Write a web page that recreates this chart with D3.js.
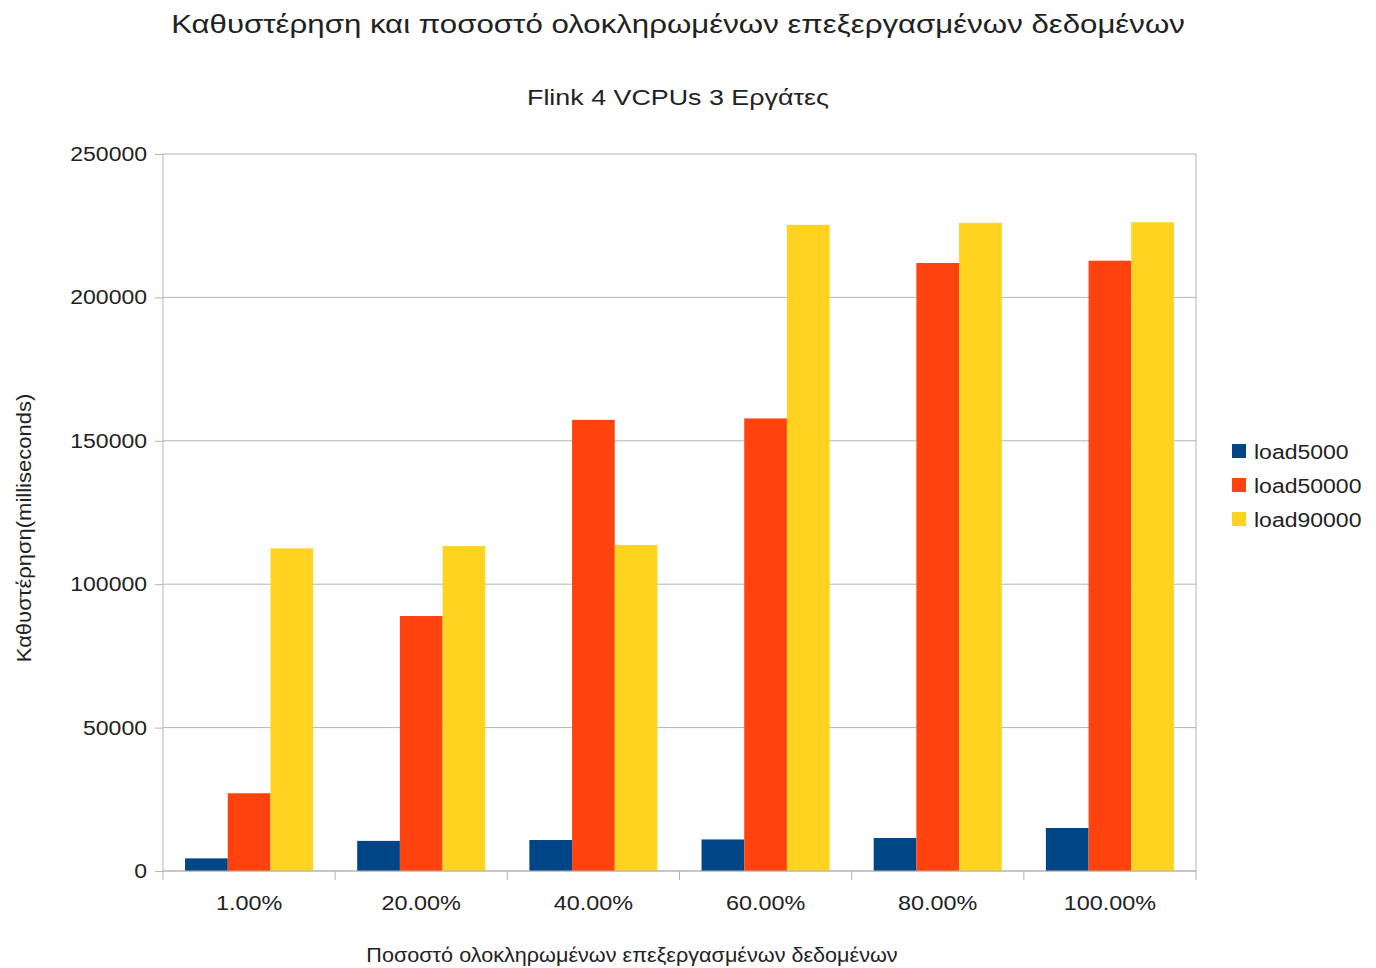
<!DOCTYPE html>
<html>
<head>
<meta charset="utf-8">
<script src="https://cdn.jsdelivr.net/npm/d3@7"></script>
<style>
  body { margin: 0; background: #fff; }
  text { font-family: "Liberation Sans", Arial, sans-serif; fill: #222; }
</style>
</head>
<body>
<div id="chart"></div>
<script>
const categories = ['1.00%', '20.00%', '40.00%', '60.00%', '80.00%', '100.00%'];
const seriesNames = ['load5000', 'load50000', 'load90000'];
const load5000 = [4400, 10500, 10800, 11000, 11500, 15000];
const load50000 = [27100, 88900, 157300, 157800, 212000, 212800];
const load90000 = [112500, 113300, 113700, 225300, 226000, 226200];
const yTicks = [0, 50000, 100000, 150000, 200000, 250000];
const colors = ['#004586', '#ff420e', '#ffd320'];

const width = 1376, height = 968;
const margin = { top: 154, right: 180, bottom: 97, left: 163 };
const plotW = width - margin.left - margin.right;
const plotH = height - margin.top - margin.bottom;

const rows = categories.map((c, i) => ({
  cat: c,
  vals: [load5000[i], load50000[i], load90000[i]]
}));

// the reference text is a bit wider than Liberation Sans at the same height
function stretch(sel, f) {
  sel.each(function () {
    const len = this.getComputedTextLength();
    d3.select(this)
      .attr('textLength', len * f)
      .attr('lengthAdjust', 'spacingAndGlyphs');
  });
}

const svg = d3.select('#chart').append('svg')
  .attr('width', width)
  .attr('height', height);

// titles
svg.append('text')
  .attr('x', 678).attr('y', 33)
  .attr('text-anchor', 'middle')
  .style('font-size', '26px')
  .text('Καθυστέρηση και ποσοστό ολοκληρωμένων επεξεργασμένων δεδομένων')
  .call(stretch, 1.2);

svg.append('text')
  .attr('x', 678).attr('y', 105)
  .attr('text-anchor', 'middle')
  .style('font-size', '22px')
  .text('Flink 4 VCPUs 3 Εργάτες')
  .call(stretch, 1.22);

const g = svg.append('g')
  .attr('transform', 'translate(' + margin.left + ',' + margin.top + ')');

const x0 = d3.scaleBand().domain(categories).range([0, plotW]).padding(0);
const pad = x0.bandwidth() * 0.128;
const x1 = d3.scaleBand().domain(seriesNames).range([pad, x0.bandwidth() - pad]);
const y = d3.scaleLinear().domain([0, 250000]).range([plotH, 0]);

// gridlines
g.selectAll('.grid')
  .data(yTicks)
  .enter()
  .append('line')
  .attr('x1', 0).attr('x2', plotW)
  .attr('y1', d => y(d)).attr('y2', d => y(d))
  .attr('stroke', '#b3b3b3')
  .attr('stroke-width', 1);

// right border
g.append('line')
  .attr('x1', plotW).attr('x2', plotW)
  .attr('y1', 0).attr('y2', plotH)
  .attr('stroke', '#b3b3b3');

// bars
const groups = g.selectAll('.grp')
  .data(rows)
  .enter()
  .append('g')
  .attr('transform', d => 'translate(' + x0(d.cat) + ',0)');

groups.selectAll('rect')
  .data(d => d.vals.map((v, i) => ({ key: seriesNames[i], v: v, i: i })))
  .enter()
  .append('rect')
  .attr('x', d => x1(d.key))
  .attr('width', x1.bandwidth())
  .attr('y', d => y(d.v))
  .attr('height', d => plotH - y(d.v))
  .attr('fill', d => colors[d.i]);

// y axis
const yAxis = g.append('g')
  .call(d3.axisLeft(y).tickValues(yTicks).tickSize(8).tickPadding(8).tickFormat(d3.format('d')));
yAxis.select('.domain').attr('stroke', '#b3b3b3').attr('d', 'M0,0V' + plotH);
yAxis.selectAll('.tick line').attr('stroke', '#b3b3b3');
yAxis.selectAll('.tick text')
  .style('font-size', '20px')
  .style('fill', '#222')
  .style('font-family', '"Liberation Sans", Arial, sans-serif')
  .call(stretch, 1.15);

// x axis: ticks at category boundaries
const xAxis = g.append('g')
  .attr('transform', 'translate(0,' + plotH + ')');
xAxis.append('line')
  .attr('x1', 0).attr('x2', plotW)
  .attr('stroke', '#b3b3b3');
xAxis.selectAll('.xtick')
  .data(categories.concat(['end']))
  .enter()
  .append('line')
  .attr('x1', (d, i) => i * x0.step())
  .attr('x2', (d, i) => i * x0.step())
  .attr('y1', 0).attr('y2', 9)
  .attr('stroke', '#b3b3b3');
xAxis.selectAll('.xlab')
  .data(categories)
  .enter()
  .append('text')
  .attr('x', d => x0(d) + x0.bandwidth() / 2)
  .attr('y', 39)
  .attr('text-anchor', 'middle')
  .style('font-size', '20px')
  .text(d => d)
  .call(stretch, 1.17);

// axis titles
svg.append('text')
  .attr('x', 632).attr('y', 962)
  .attr('text-anchor', 'middle')
  .style('font-size', '20px')
  .text('Ποσοστό ολοκληρωμένων επεξεργασμένων δεδομένων')
  .call(stretch, 1.08);

svg.append('text')
  .attr('transform', 'translate(31,528) rotate(-90)')
  .attr('text-anchor', 'middle')
  .style('font-size', '20px')
  .text('Καθυστέρηση(milliseconds)')
  .call(stretch, 1.1);

// legend
const legend = svg.append('g')
  .attr('transform', 'translate(1232,444)');
const item = legend.selectAll('.li')
  .data(seriesNames)
  .enter()
  .append('g')
  .attr('transform', (d, i) => 'translate(0,' + i * 34 + ')');
item.append('rect')
  .attr('width', 14).attr('height', 14)
  .attr('fill', (d, i) => colors[i]);
item.append('text')
  .attr('x', 22).attr('y', 15)
  .style('font-size', '20px')
  .text(d => d)
  .call(stretch, 1.15);
</script>
</body>
</html>
